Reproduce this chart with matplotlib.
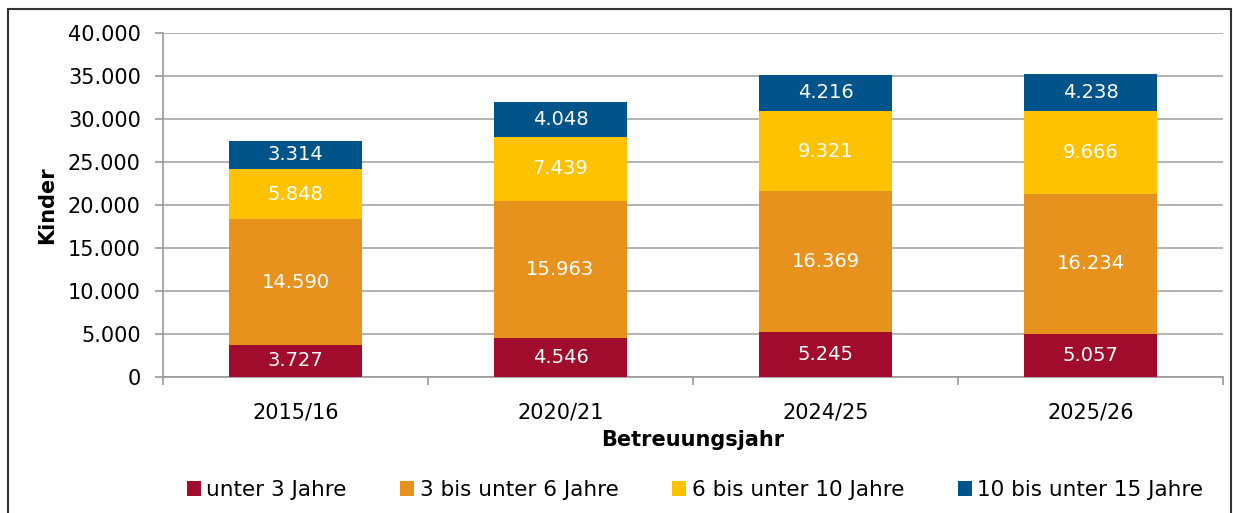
import matplotlib
matplotlib.use("Agg")
import numpy as np
from matplotlib import pyplot as plt
from matplotlib.patches import Rectangle

years = ['2015/16', '2020/21', '2024/25', '2025/26']
series_names = ['unter 3 Jahre', '3 bis unter 6 Jahre', '6 bis unter 10 Jahre', '10 bis unter 15 Jahre']
unter3 = [3727, 4546, 5245, 5057]
bis6 = [14590, 15963, 16369, 16234]
bis10 = [5848, 7439, 9321, 9666]
bis15 = [3314, 4048, 4216, 4238]
colors = ['#A10C2C', '#E8921E', '#FFC200', '#00548A']

def fmt(v):
    return f"{v:,.0f}".replace(',', '.')

plt.rcParams['font.family'] = ['DejaVu Sans']

fig = plt.figure(figsize=(12.33, 5.13), dpi=100)
ax = fig.add_axes([163 / 1233, 136 / 513, 1060 / 1233, 344 / 513])

x = np.arange(len(years))
bottom = np.zeros(len(years))
for vals, name, col in zip([unter3, bis6, bis10, bis15], series_names, colors):
    ax.bar(x, vals, width=0.5, bottom=bottom, color=col, label=name, zorder=3)
    for xi, b, v in zip(x, bottom, vals):
        ax.text(xi, b + v / 2, fmt(v), ha='center', va='center', color='white', fontsize=14, zorder=4)
    bottom += np.array(vals)

ax.set_xlim(-0.5, len(years) - 0.5)
ax.set_ylim(0, 40000)
ax.set_yticks(np.arange(0, 40001, 5000))
ax.set_yticklabels([fmt(v) for v in np.arange(0, 40001, 5000)], fontsize=15)
ax.set_xticks(x)
ax.set_xticklabels(years, fontsize=15)
ax.set_xticks(np.arange(-0.5, len(years)), minor=True)
ax.tick_params(axis='x', which='major', length=0, pad=18)
ax.tick_params(axis='x', which='minor', length=6, color='#999999', width=1.2)
ax.tick_params(axis='y', length=6, color='#999999', width=1.2, pad=10)
ax.grid(axis='y', color='#A6A6A6', linewidth=1.2, zorder=0)
for s in ['top', 'right']:
    ax.spines[s].set_visible(False)
for s in ['left', 'bottom']:
    ax.spines[s].set_color('#999999')
    ax.spines[s].set_linewidth(1.2)

ax.set_ylabel('Kinder', fontsize=15, fontweight='bold', labelpad=8)
ax.set_xlabel('Betreuungsjahr', fontsize=15, fontweight='bold', labelpad=6)

ax.legend(loc='center', bbox_to_anchor=(695 / 1233, 23 / 513), bbox_transform=fig.transFigure,
          ncol=4, frameon=False, fontsize=15.5, handlelength=0.65, handleheight=0.65,
          handletextpad=0.25, columnspacing=2.5)

fig.patches.append(Rectangle((8 / 1233, -0.01), 1223 / 1233, (513 - 9) / 513 + 0.01,
                             transform=fig.transFigure, fill=False, edgecolor='#333333', linewidth=1.5))

fig.savefig('out.png', dpi=100)
